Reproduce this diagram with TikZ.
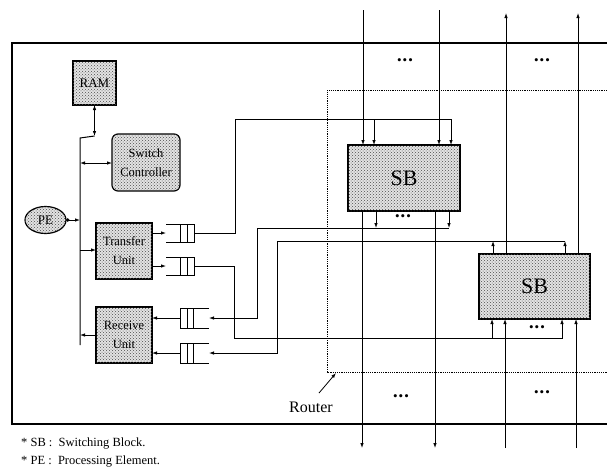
\documentclass[tikz,border=0pt]{standalone}
\usepackage{fontspec}
\setmainfont{Liberation Serif}
\usetikzlibrary{arrows.meta,shapes.geometric,patterns,calc}
\begin{document}
\begin{tikzpicture}[x=1pt,y=-1pt,
  blk/.style={draw, line width=1.2pt, fill=gray!22, postaction={pattern=crosshatch dots, pattern color=black!70}, inner sep=0pt, outer sep=0pt, align=center},
  conn/.style={line width=0.8pt},
  tip/.style={conn,-{Latex[length=5pt,width=3.5pt]}},
  both/.style={conn,{Latex[length=5pt,width=3.5pt]}-{Latex[length=5pt,width=3.5pt]}},
  qn/.style={inner sep=0pt, outer sep=0pt},
  qline/.style={line width=0.9pt},
  dotsn/.style={font=\fontsize{13}{13}\selectfont, inner sep=0pt},
  lbl/.style={font=\fontsize{12.5}{19}\selectfont},
]
\useasboundingbox (0,0) rectangle (607,469);
% outer frame
\draw[line width=1.2pt] (607,43) -- (12,43) -- (12,424) -- (607,424);
% router dotted box
\draw[line width=0.9pt, dash pattern=on 1.2pt off 1pt] (607,90) -- (327,90) -- (327,372) -- (607,372);

% blocks
\node[blk, minimum width=43pt, minimum height=44pt, font=\fontsize{13}{13}\selectfont] (RAM) at (94.5,83) {RAM};
\node[blk, rounded corners=6pt, minimum width=68pt, minimum height=57pt, lbl] (SC) at (146,162.5) {Switch\\Controller};
\node[blk, ellipse, minimum width=41pt, minimum height=27pt, font=\fontsize{13}{13}\selectfont] (PE) at (45.5,220) {PE};
\node[blk, minimum width=56pt, minimum height=56pt, lbl] (TU) at (124,251) {Transfer\\Unit};
\node[blk, minimum width=56pt, minimum height=56pt, lbl] (RU) at (124,335) {Receive\\Unit};
\node[blk, minimum width=112pt, minimum height=66pt, font=\fontsize{22}{22}\selectfont] (SB1) at (404,178) {SB};
\node[blk, minimum width=111pt, minimum height=65pt, font=\fontsize{22}{22}\selectfont] (SB2) at (534.5,286.5) {SB};

% queues
\node[qn, minimum width=28pt, minimum height=18pt] (q1) at (180,233) {};
\node[qn, minimum width=28pt, minimum height=18pt] (q2) at (180,266) {};
\node[qn, minimum width=29pt, minimum height=20pt] (q3) at (194.5,318) {};
\node[qn, minimum width=29pt, minimum height=20pt] (q4) at (194.5,353) {};
\foreach \q in {q1,q2}{
  \draw[qline] (\q.north west) -- (\q.north east) -- (\q.south east) -- (\q.south west);
  \draw[qline] ($(\q.north east)+(-7,0)$) -- ($(\q.south east)+(-7,0)$);
  \draw[qline] ($(\q.north east)+(-14,0)$) -- ($(\q.south east)+(-14,0)$);
}
\foreach \q in {q3,q4}{
  \draw[qline] (\q.north east) -- (\q.north west) -- (\q.south west) -- (\q.south east);
  \draw[qline] ($(\q.north west)+(7,0)$) -- ($(\q.south west)+(7,0)$);
  \draw[qline] ($(\q.north west)+(13,0)$) -- ($(\q.south west)+(13,0)$);
}

% bus
\coordinate (bustop) at (80,138);
\coordinate (busbot) at (80,345);
\coordinate (ramj) at (94.5,136);
\draw[conn, line width=1pt] (busbot) -- (bustop) -- (ramj);
\draw[both] (ramj) -- (RAM.south);
\draw[both] (80,163) -- (SC.west |- 80,163);
\draw[conn, {Circle[length=3.5pt]}-{Latex[length=5pt,width=3.5pt]}] (PE.east) -- (PE.east -| bustop);
\draw[tip] (80,250) -- (TU.west |- 80,250);
\draw[tip] (RU.west |- 80,335) -- (80,335);

% unit <-> queues
\draw[tip] (TU.east |- q1) -- (q1.west);
\draw[tip] (TU.east |- q2) -- (q2.west);
\draw[tip] (q3.west) -- (RU.east |- q3);
\draw[tip] (q4.west) -- (RU.east |- q4);

% q1 -> SB1 top
\coordinate (k1) at (235,119);
\coordinate (b1) at (374,119);
\draw[tip] (q1.east) -| (k1) -| ($(SB1.north west)+(103,0)$);
\draw[tip] (b1) -- (b1 |- SB1.north);
% q2 -> SB2 bottom
\coordinate (k2) at (234,338);
\coordinate (b2) at (492,338);
\draw[tip] (q2.east) -| (k2) -| ($(SB2.south west)+(83,0)$);
\draw[tip] (b2) -- (b2 |- SB2.south);
% SB1 bottom -> q3
\coordinate (k3) at (257,228);
\coordinate (m3) at (449,228);
\draw[tip] ($(SB1.south west)+(101,0)$) -- (m3);
\draw[tip] ($(SB1.south west)+(28,0)$) -- ($(SB1.south west)+(28,17)$);
\draw[tip] (m3) -- (k3) |- (q3.east);
% SB2 top -> q4
\coordinate (k4) at (277,241);
\coordinate (m4) at (565,241);
\draw[tip] ($(SB2.north west)+(86,0)$) -- (m4);
\draw[tip] ($(SB2.north west)+(14,0)$) -- ($(SB2.north west)+(14,-13)$);
\draw[tip] (m4) -- (k4) |- (q4.east);

% through lines
\coordinate (t1) at (363,10);
\coordinate (t2) at (439,10);
\coordinate (t3) at (506,13);
\coordinate (t4) at (578,13);
\coordinate (u1) at (362,448);
\coordinate (u2) at (435,448);
\coordinate (u3) at (505,448);
\coordinate (u4) at (576,448);
\draw[tip] (t1) -- ($(SB1.north west)+(15,0)$);
\draw[tip] (t2) -- ($(SB1.north west)+(91,0)$);
\draw[tip] ($(SB1.south west)+(14,0)$) -- (u1);
\draw[tip] ($(SB1.south west)+(87,0)$) -- (u2);
\draw[tip] ($(SB2.north west)+(27,0)$) -- (t3);
\draw[tip] ($(SB2.north west)+(99,0)$) -- (t4);
\draw[tip] (u3) -- ($(SB2.south west)+(26,0)$);
\draw[tip] (u4) -- ($(SB2.south west)+(97,0)$);

% ellipses
\node[dotsn] (d1) at (405,62) {\textbullet\kern1pt\textbullet\kern1pt\textbullet};
\node[dotsn] (d2) at (542,62) {\textbullet\kern1pt\textbullet\kern1pt\textbullet};
\node[dotsn] (d3) at (403,218) {\textbullet\kern1pt\textbullet\kern1pt\textbullet};
\node[dotsn] (d4) at (537,329) {\textbullet\kern1pt\textbullet\kern1pt\textbullet};
\node[dotsn] (d5) at (401,398) {\textbullet\kern1pt\textbullet\kern1pt\textbullet};
\node[dotsn] (d6) at (542,394) {\textbullet\kern1pt\textbullet\kern1pt\textbullet};

% router label
\node[font=\fontsize{16}{16}\selectfont, inner sep=0pt] (rl) at (311,407) {Router};
\coordinate (rs) at (319,393);
\coordinate (rc) at (336,373);
\draw[conn, -{Latex[length=5pt,width=3.5pt]}] (rs) -- (rc);

% footnotes
\node[anchor=west, font=\fontsize{12.5}{12.5}\selectfont, inner sep=0pt] (f1) at (21,444) {* SB :\enspace Switching Block.};
\node[anchor=west, font=\fontsize{12.5}{12.5}\selectfont, inner sep=0pt] (f2) at (21,462) {* PE :\enspace Processing Element.};
\end{tikzpicture}
\end{document}
